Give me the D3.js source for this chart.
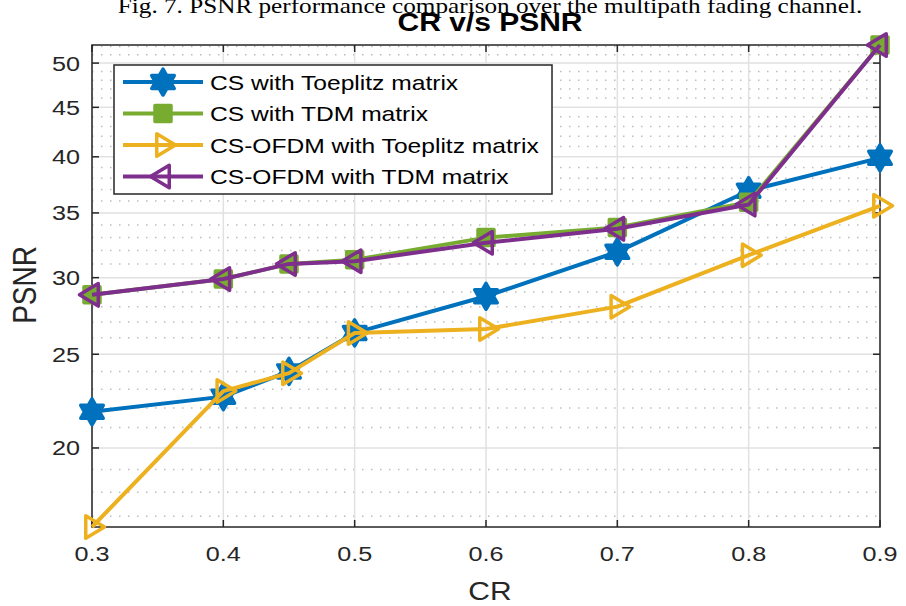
<!DOCTYPE html>
<html>
<head>
<meta charset="utf-8">
<script src="https://cdn.jsdelivr.net/npm/d3@7"></script>
<style>
  body { margin: 0; background: #fff; }
  svg { display: block; }
  text { font-family: "Liberation Sans", Arial, sans-serif; fill: #262626; }
</style>
</head>
<body>
<svg width="906" height="606"></svg>
<script>
// data
var cr = [0.3, 0.4, 0.45, 0.5, 0.6, 0.7, 0.8, 0.9];
var csToeplitz = [21.8, 22.6, 24.0, 26.3, 28.7, 31.9, 36.9, 39.9];
var csTdm = [28.8, 29.9, 31.0, 31.3, 33.0, 33.8, 35.9, 52.2];
var ofdmToeplitz = [16.57, 22.9, 23.9, 26.3, 26.55, 28.0, 31.65, 35.6];
var ofdmTdm = [28.8, 29.9, 31.0, 31.2, 32.6, 33.7, 35.7, 52.2];
var seriesNames = ['CS with Toeplitz matrix', 'CS with TDM matrix', 'CS-OFDM with Toeplitz matrix', 'CS-OFDM with TDM matrix'];
var xTicks = [0.3, 0.4, 0.5, 0.6, 0.7, 0.8, 0.9];
var yTicks = [20, 25, 30, 35, 40, 45, 50];

var pl = 92, pr = 880, pt = 45, pb = 527;
var sx = 1.2; // the picture's text is a bit wide

var svg = d3.select('svg');

var x = d3.scaleLinear().domain([0.3, 0.9]).range([pl, pr]);
var y = d3.scaleLog().domain([16.57, 52.2]).range([pb, pt]);

// caption and title
svg.append('text')
	.attr('transform', 'translate(490,13) scale(' + sx + ',1)')
	.attr('text-anchor', 'middle')
	.style('font-family', '"Liberation Serif", "Times New Roman", serif')
	.style('font-size', '21px')
	.style('fill', '#000')
	.text('Fig. 7. PSNR performance comparison over the multipath fading channel.');

svg.append('text')
	.attr('transform', 'translate(490,31) scale(' + sx + ',1)')
	.attr('text-anchor', 'middle')
	.style('font-size', '25px')
	.style('font-weight', 'bold')
	.style('fill', '#000')
	.text('CR v/s PSNR');

// grid
var minor = d3.range(17, 53).filter(function(v) { return v % 5 != 0; });
svg.append('g').selectAll('line').data(minor).enter().append('line')
	.attr('x1', pl).attr('x2', pr)
	.attr('y1', function(d) { return y(d); })
	.attr('y2', function(d) { return y(d); })
	.attr('stroke', '#bdbdbd')
	.attr('stroke-width', 1.5)
	.attr('stroke-dasharray', '1.5,7.5');

svg.append('g').selectAll('line').data(yTicks).enter().append('line')
	.attr('x1', pl).attr('x2', pr)
	.attr('y1', function(d) { return y(d); })
	.attr('y2', function(d) { return y(d); })
	.attr('stroke', '#e1e1e1')
	.attr('stroke-width', 1.5);

svg.append('g').selectAll('line').data(xTicks).enter().append('line')
	.attr('y1', pt).attr('y2', pb)
	.attr('x1', function(d) { return x(d); })
	.attr('x2', function(d) { return x(d); })
	.attr('stroke', '#e1e1e1')
	.attr('stroke-width', 1.5);

// axes box with inward ticks
svg.append('rect')
	.attr('x', pl).attr('y', pt)
	.attr('width', pr - pl).attr('height', pb - pt)
	.attr('fill', 'none')
	.attr('stroke', '#262626')
	.attr('stroke-width', 1.5);

var tk = svg.append('g').attr('stroke', '#262626').attr('stroke-width', 1.5);
xTicks.forEach(function(d) {
	tk.append('line').attr('x1', x(d)).attr('x2', x(d)).attr('y1', pb).attr('y2', pb - 7);
	tk.append('line').attr('x1', x(d)).attr('x2', x(d)).attr('y1', pt).attr('y2', pt + 7);
});
yTicks.forEach(function(d) {
	tk.append('line').attr('x1', pl).attr('x2', pl + 7).attr('y1', y(d)).attr('y2', y(d));
	tk.append('line').attr('x1', pr).attr('x2', pr - 7).attr('y1', y(d)).attr('y2', y(d));
});

svg.append('g').selectAll('text').data(xTicks).enter().append('text')
	.attr('transform', function(d) { return 'translate(' + x(d) + ',561) scale(' + sx + ',1)'; })
	.attr('text-anchor', 'middle')
	.style('font-size', '21px')
	.text(function(d) { return d3.format('.1f')(d); });

svg.append('g').selectAll('text').data(yTicks).enter().append('text')
	.attr('transform', function(d) { return 'translate(80,' + (y(d) + 7.5) + ') scale(' + sx + ',1)'; })
	.attr('text-anchor', 'end')
	.style('font-size', '21px')
	.text(function(d) { return d; });

svg.append('text')
	.attr('transform', 'translate(490,600) scale(' + sx + ',1)')
	.attr('text-anchor', 'middle')
	.style('font-size', '25px')
	.text('CR');

svg.append('text')
	.attr('transform', 'translate(36,285) rotate(-90) scale(1,' + sx + ')')
	.attr('text-anchor', 'middle')
	.style('font-size', '28px')
	.text('PSNR');

// markers
function hexagram(R) {
	var pts = [];
	for (var i = 0; i < 12; i++) {
		var r = i % 2 ? R / Math.sqrt(3) : R;
		var a = -Math.PI / 2 + i * Math.PI / 6;
		pts.push([r * Math.cos(a), r * Math.sin(a)]);
	}
	return 'M' + pts.join('L') + 'Z';
}
function triangle(R, dir) {
	var pts = [[dir * R, 0], [-dir * R / 2, R * 0.9], [-dir * R / 2, -R * 0.9]];
	return 'M' + pts.join('L') + 'Z';
}

var colors = ['#0072BD', '#77AC30', '#EDB120', '#7E2F8E'];
var markers = [
	{ d: hexagram(13), fill: true },
	{ d: 'M-8,-8L8,-8L8,8L-8,8Z', fill: true },
	{ d: triangle(12.5, 1), fill: false },
	{ d: triangle(12.5, -1), fill: false }
];
var allSeries = [csToeplitz, csTdm, ofdmToeplitz, ofdmTdm];

var line = d3.line()
	.x(function(d, i) { return x(cr[i]); })
	.y(function(d) { return y(d); });

allSeries.forEach(function(vals, k) {
	var g = svg.append('g');
	g.append('path')
		.attr('d', line(vals))
		.attr('fill', 'none')
		.attr('stroke', colors[k])
		.attr('stroke-width', 4)
		.attr('stroke-linejoin', 'round');
	g.selectAll('path.m').data(vals).enter().append('path')
		.attr('class', 'm')
		.attr('transform', function(d, i) { return 'translate(' + x(cr[i]) + ',' + y(d) + ')'; })
		.attr('d', markers[k].d)
		.attr('fill', markers[k].fill ? colors[k] : 'none')
		.attr('stroke', colors[k])
		.attr('stroke-width', 3.5)
		.attr('stroke-linejoin', 'round');
});

// legend
var lg = svg.append('g');
lg.append('rect')
	.attr('x', 114).attr('y', 65)
	.attr('width', 438).attr('height', 129)
	.attr('fill', '#fff')
	.attr('stroke', '#262626')
	.attr('stroke-width', 1.5);

seriesNames.forEach(function(name, k) {
	var ly = 82 + k * 31.5;
	lg.append('line')
		.attr('x1', 123).attr('x2', 203)
		.attr('y1', ly).attr('y2', ly)
		.attr('stroke', colors[k])
		.attr('stroke-width', 4);
	lg.append('path')
		.attr('transform', 'translate(163,' + ly + ')')
		.attr('d', markers[k].d)
		.attr('fill', markers[k].fill ? colors[k] : 'none')
		.attr('stroke', colors[k])
		.attr('stroke-width', 3.5)
		.attr('stroke-linejoin', 'round');
	lg.append('text')
		.attr('transform', 'translate(210,' + (ly + 7.5) + ') scale(' + sx + ',1)')
		.style('font-size', '20.5px')
		.style('fill', '#000')
		.text(name);
});
</script>
</body>
</html>
